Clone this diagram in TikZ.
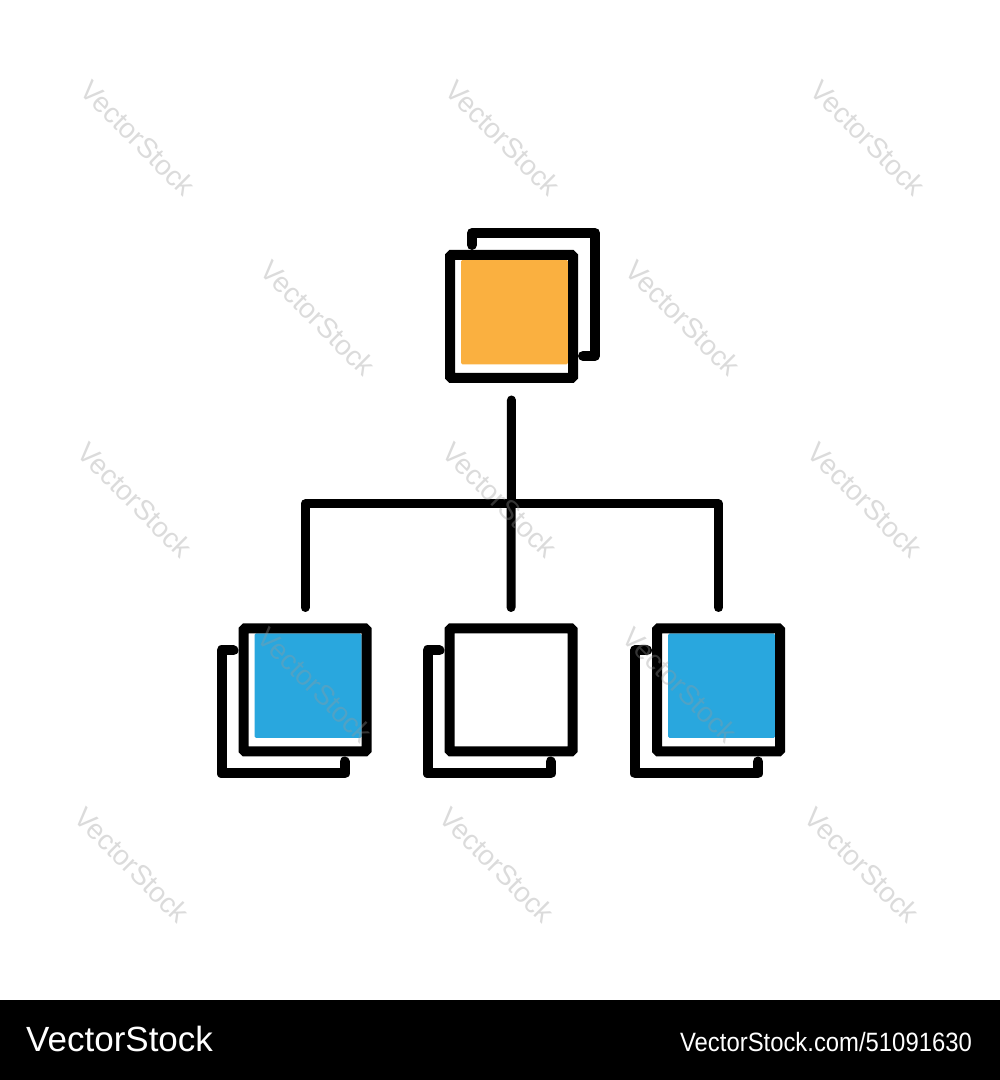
\documentclass[tikz,border=0pt]{standalone}
\usepackage{fontspec}
\setmainfont{Liberation Sans}
\usetikzlibrary{calc,positioning}
\definecolor{cardorange}{RGB}{250,176,64}
\definecolor{cardblue}{RGB}{41,167,222}
\tikzset{
    every node/.style={
        font=\normalsize
    },
    link/.style={
        line width=9pt,
        line cap=round,
        line join=round
    }
}

\begin{document}
\begin{tikzpicture}[
			x=1pt, y=1pt,
			card/.style={rectangle, draw, line width=10pt, rounded corners=1.5pt, minimum size=123pt, inner sep=0pt, outer sep=0pt,
				path picture={\fill[#1] ($(path picture bounding box.north west)+(11,-5)$) rectangle ($(path picture bounding box.south east)+(-5,13.5)$);}},
			stack/.style={draw, line width=10pt, line cap=round, line join=round},
			wmark/.style={font=\fontsize{28}{28}\selectfont, text=black!40, text opacity=0.35, rotate=-45},
			brand/.style={text=white, inner sep=0pt}
			]
			\useasboundingbox (0,0) rectangle (1000,1080);
			\fill[white] (0,0) rectangle (1000,1080);
			
			\node (top) at (511.5, 763.5) [card=cardorange] {};
			\node (lf) at (305, 390) [card=cardblue] {};
			\node (md) at (511, 390) [card=white] {};
			\node (rg) at (718.5, 390) [card=cardblue] {};
			
			\draw[stack] ($(top.north west)+(22,10)$) -- ++(0,12) -| ($(top.south east)+(22,22)$) -- ++(-12,0);
			\foreach \n in {lf,md,rg}
				\draw[stack] ($(\n.north west)+(-10,-22)$) -- ++(-12,0) |- ($(\n.south east)+(-22,-22)$) -- ++(0,12);
			
			\coordinate (bus) at (511.5, 576);
			\draw[link, shorten <=22pt, shorten >=21pt] (top.south) -- (md.north);
			\draw[link, shorten <=21pt, shorten >=21pt] (lf.north) |- (bus) -| (rg.north);
			
			\fill[black] (0,0) rectangle (1000,80);
			\node (logo) at (26,28) [brand, anchor=base west, font=\fontsize{35}{35}\selectfont] {VectorStock};
			\node (url) at (972,28) [brand, anchor=base east, font=\fontsize{26.5}{26.5}\selectfont, xscale=0.9] {VectorStock.com/51091630};
			
			\foreach \x/\y in {138/942, 503/942, 868/942, 318/762, 683/762, 135/580, 500/580, 865/580, 315/395, 680/395, 132/215, 497/215, 862/215}
				\node at (\x,\y) [wmark] {VectorStock};
		\end{tikzpicture}
\end{document}
